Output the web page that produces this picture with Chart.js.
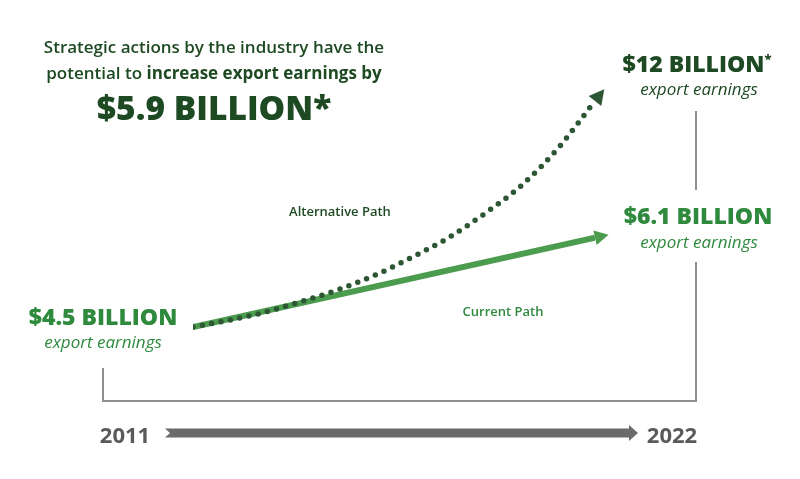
<!DOCTYPE html>
<html>
<head>
<meta charset="utf-8">
<script src="https://cdn.jsdelivr.net/npm/chart.js@4"></script>
<style>
  html, body { margin: 0; padding: 0; background: #fff; }
  #wrap { position: relative; width: 800px; height: 479px; font-family: "Open Sans", sans-serif; }
  #wrap canvas { position: absolute; left: 0; top: 0; }
  .lbl { position: absolute; transform: translate(-50%, -50%); white-space: nowrap; line-height: 1; }
  .big { font-weight: 800; font-size: 23px; }
  .sub { font-style: italic; font-size: 17px; }
  .dark { color: #1e4a23; }
  .green { color: #2f8a3d; }
  .year { font-weight: 700; font-size: 22px; color: #5a5a5a; }
</style>
</head>
<body>
<div id="wrap">
  <canvas id="pathChart" width="800" height="479"></canvas>

  <div class="lbl dark" style="left:214px; top:60px; text-align:center; font-size:17px; font-weight:600; line-height:26px;">
    Strategic actions by the industry have the<br>potential to <b style="font-weight:700">increase export earnings by</b>
  </div>
  <div class="lbl dark" style="left:214px; top:108px; font-size:33.5px; font-weight:800;">$5.9 BILLION*</div>

  <div class="lbl dark big" style="left:697px; top:63px;">$12 BILLION<sup style="font-size:13px;">*</sup></div>
  <div class="lbl dark sub" style="left:699px; top:88px;">export earnings</div>

  <div class="lbl green big" style="left:698px; top:215px;">$6.1 BILLION</div>
  <div class="lbl green sub" style="left:699px; top:241px;">export earnings</div>

  <div class="lbl green big" style="left:103px; top:316px;">$4.5 BILLION</div>
  <div class="lbl green sub" style="left:103px; top:341px;">export earnings</div>

  <div class="lbl dark" style="left:340px; top:211px; font-size:13px; font-weight:600;">Alternative Path</div>
  <div class="lbl green" style="left:503px; top:311px; font-size:13px; font-weight:600;">Current Path</div>

  <div class="lbl year" style="left:125px; top:434px;">2011</div>
  <div class="lbl year" style="left:672px; top:434px;">2022</div>
</div>

<script>
// years on the timeline
const years = [2011, 2012, 2013, 2014, 2015, 2016, 2017, 2018, 2019, 2020, 2021, 2022];

// export earnings, $ billion
const currentYears = [2011, 2022];
const currentValues = [4.5, 6.1];
const alternativeValues = [4.5, 4.73, 5.0, 5.36, 5.75, 6.23, 6.82, 7.47, 8.28, 9.21, 10.45, 12.0];

const solidGreen = "#4c9c50";
const dottedGreen = "#2d5734";

// draws an arrow head at the end of each line
const arrowHeads = {
  id: "arrowHeads",
  afterDatasetsDraw(chart) {
    const ctx = chart.ctx;
    chart.data.datasets.forEach((ds, i) => {
      const pts = chart.getDatasetMeta(i).data;
      const last = pts[pts.length - 1];
      let fx = pts[pts.length - 2].x, fy = pts[pts.length - 2].y;
      if (last.cp1x !== undefined && (last.cp1x !== last.x || last.cp1y !== last.y)) {
        fx = last.cp1x; fy = last.cp1y;
      }
      const len = Math.hypot(last.x - fx, last.y - fy);
      const ux = (last.x - fx) / len, uy = (last.y - fy) / len;
      const L = ds.arrowLength, W = ds.arrowHalf;
      ctx.save();
      ctx.fillStyle = ds.borderColor;
      ctx.beginPath();
      ctx.moveTo(last.x + ux * L, last.y + uy * L);
      ctx.lineTo(last.x - uy * W, last.y + ux * W);
      ctx.lineTo(last.x + uy * W, last.y - ux * W);
      ctx.closePath();
      ctx.fill();
      ctx.restore();
    });
  }
};

// grey bracket and timeline arrow
const frame = {
  id: "frame",
  beforeDatasetsDraw(chart) {
    const ctx = chart.ctx;
    ctx.save();
    ctx.strokeStyle = "#8e8e93";
    ctx.lineWidth = 2;
    ctx.beginPath();
    ctx.moveTo(103, 368);
    ctx.lineTo(103, 401);
    ctx.lineTo(696, 401);
    ctx.lineTo(696, 262);
    ctx.moveTo(696, 190);
    ctx.lineTo(696, 111);
    ctx.stroke();

    const y = 433;
    ctx.fillStyle = "#6b6b6b";
    ctx.beginPath();
    ctx.moveTo(165, y - 4.5);
    ctx.lineTo(629, y - 4.5);
    ctx.lineTo(629, y - 8);
    ctx.lineTo(638, y);
    ctx.lineTo(629, y + 8);
    ctx.lineTo(629, y + 4.5);
    ctx.lineTo(165, y + 4.5);
    ctx.lineTo(170, y);
    ctx.closePath();
    ctx.fill();
    ctx.restore();
  }
};

new Chart(document.getElementById("pathChart"), {
  type: "line",
  data: {
    datasets: [
      {
        label: "Alternative Path",
        data: years.map((yr, i) => ({ x: yr, y: alternativeValues[i] })),
        yAxisID: "yAlt",
        borderColor: dottedGreen,
        borderWidth: 5.5,
        borderDash: [0, 9.5],
        borderCapStyle: "round",
        cubicInterpolationMode: "monotone",
        pointRadius: 0,
        order: 0,
        arrowLength: 15,
        arrowHalf: 8
      },
      {
        label: "Current Path",
        data: currentYears.map((yr, i) => ({ x: yr, y: currentValues[i] })),
        yAxisID: "y",
        borderColor: solidGreen,
        borderWidth: 6,
        pointRadius: 0,
        order: 1,
        arrowLength: 14,
        arrowHalf: 7.5
      }
    ]
  },
  options: {
    responsive: false,
    animation: false,
    layout: { padding: { left: 193, right: 205, top: 80, bottom: 139 } },
    plugins: { legend: { display: false }, tooltip: { enabled: false } },
    scales: {
      x: { type: "linear", min: 2011, max: 2022, display: false },
      y: { min: 4.267, max: 8.926, display: false },
      yAlt: { min: 4.069, max: 12.697, display: false }
    }
  },
  plugins: [frame, arrowHeads]
});
</script>
</body>
</html>
